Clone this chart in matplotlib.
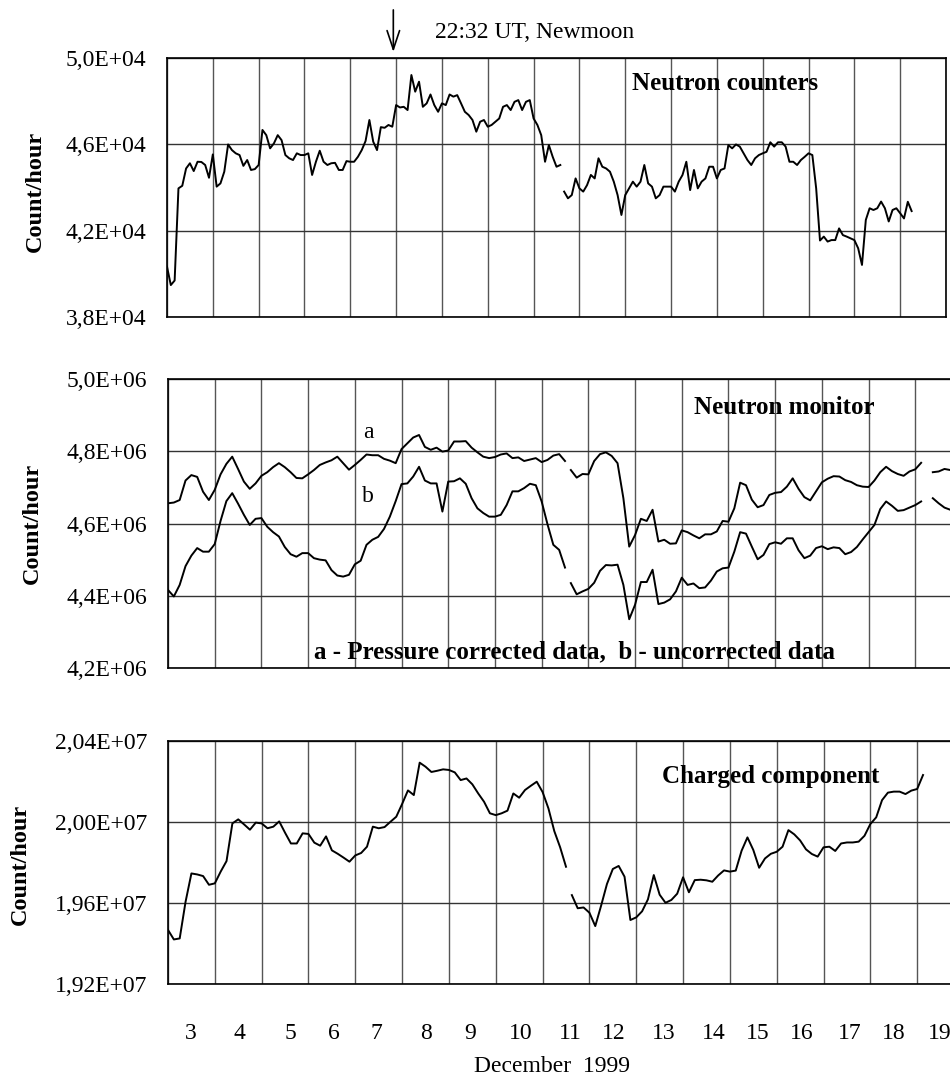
import numpy as np
import matplotlib
matplotlib.use("Agg")
import matplotlib.pyplot as plt
from matplotlib.ticker import FuncFormatter

plt.rcParams["font.family"] = ["Liberation Serif", "DejaVu Serif"]

# -----------------------------
# Data
# time axis in days of December 1999
# -----------------------------
DAY_START = 3.0
DAY_END = 20.0
NEWMOON_DAY = 7 + (22 + 32 / 60) / 24  # 22:32 UT, Dec 7

# Neutron counters, 2-hourly values, units of 1E+04 count/hour
NC_STEP = 2 / 24
NC_SEG1_START = 3.0
NC_SEG1 = [
    4.034, 3.949, 3.970, 4.396, 4.408, 4.488, 4.512, 4.476, 4.519, 4.518,
    4.504, 4.445, 4.553, 4.404, 4.419, 4.473, 4.599, 4.573, 4.558, 4.550,
    4.500, 4.527, 4.481, 4.485, 4.504, 4.666, 4.642, 4.581, 4.604, 4.642,
    4.619, 4.550, 4.535, 4.527, 4.558, 4.550, 4.550, 4.558, 4.458, 4.519,
    4.570, 4.519, 4.504, 4.512, 4.514, 4.481, 4.481, 4.522, 4.519, 4.519,
    4.542, 4.573, 4.615, 4.712, 4.612, 4.573, 4.679, 4.676, 4.689, 4.681,
    4.781, 4.770, 4.773, 4.758, 4.920, 4.843, 4.889, 4.773, 4.789, 4.830,
    4.781, 4.750, 4.789, 4.781, 4.830, 4.820, 4.827, 4.789, 4.750, 4.735,
    4.712, 4.658, 4.704, 4.712, 4.681, 4.689, 4.704, 4.719, 4.773, 4.781,
    4.758, 4.796, 4.804, 4.758, 4.796, 4.804, 4.719, 4.689, 4.642, 4.519,
    4.596, 4.542, 4.496, 4.504,
]
NC_SEG2_START = 3.0 + 104 * NC_STEP
NC_SEG2 = [
    4.381, 4.350, 4.365, 4.442, 4.396, 4.381, 4.411, 4.458, 4.442, 4.535,
    4.496, 4.488, 4.473, 4.427, 4.365, 4.273, 4.365, 4.396, 4.427, 4.404,
    4.427, 4.504, 4.419, 4.404, 4.350, 4.365, 4.404, 4.404, 4.404, 4.381,
    4.427, 4.458, 4.519, 4.388, 4.481, 4.396, 4.427, 4.442, 4.496, 4.496,
    4.442, 4.481, 4.488, 4.596, 4.581, 4.599, 4.589, 4.558, 4.527, 4.504,
    4.535, 4.550, 4.558, 4.565, 4.609, 4.589, 4.609, 4.609, 4.589, 4.519,
    4.519, 4.504, 4.527, 4.542, 4.558, 4.550, 4.396, 4.155, 4.173, 4.150,
    4.157, 4.157, 4.211, 4.180, 4.173, 4.165, 4.157, 4.119, 4.042, 4.250,
    4.304, 4.296, 4.304, 4.335, 4.304, 4.243, 4.296, 4.304, 4.281, 4.257,
    4.334, 4.291,
]

# Neutron monitor, 3-hourly values, units of 1E+06 count/hour
NM_STEP = 3 / 24
NM_SEG_STARTS = [3.0, 3.0 + 69 * NM_STEP, 3.0 + 131 * NM_STEP]
NM_A1 = [
    4.656, 4.658, 4.665, 4.719, 4.734, 4.729, 4.688, 4.665, 4.693, 4.736,
    4.765, 4.785, 4.751, 4.716, 4.696, 4.711, 4.732, 4.742, 4.756, 4.767,
    4.756, 4.742, 4.726, 4.725, 4.736, 4.748, 4.762, 4.769, 4.775, 4.785,
    4.767, 4.749, 4.762, 4.776, 4.791, 4.789, 4.789, 4.779, 4.774, 4.767,
    4.806, 4.822, 4.838, 4.845, 4.812, 4.804, 4.810, 4.799, 4.802, 4.827,
    4.827, 4.828, 4.810, 4.797, 4.785, 4.781, 4.784, 4.791, 4.794, 4.781,
    4.783, 4.773, 4.777, 4.781, 4.770, 4.776, 4.788, 4.792, 4.773,
]
NM_A2 = [
    4.748, 4.727, 4.737, 4.736, 4.773, 4.792, 4.797, 4.787, 4.767, 4.670,
    4.536, 4.568, 4.613, 4.607, 4.638, 4.550, 4.555, 4.544, 4.545, 4.581,
    4.576, 4.567, 4.559, 4.570, 4.570, 4.578, 4.607, 4.605, 4.642, 4.713,
    4.706, 4.666, 4.645, 4.651, 4.679, 4.685, 4.687, 4.702, 4.725, 4.696,
    4.673, 4.664, 4.689, 4.714, 4.724, 4.731, 4.730, 4.720, 4.715, 4.706,
    4.702, 4.701, 4.719, 4.742, 4.757, 4.745, 4.737, 4.732, 4.744, 4.750,
    4.768,
]
NM_A3 = [4.742, 4.744, 4.751, 4.748]

NM_B1 = [
    4.416, 4.398, 4.430, 4.482, 4.511, 4.532, 4.522, 4.522, 4.543, 4.607,
    4.662, 4.684, 4.655, 4.624, 4.596, 4.613, 4.615, 4.591, 4.576, 4.564,
    4.535, 4.515, 4.508, 4.518, 4.518, 4.504, 4.500, 4.498, 4.471, 4.456,
    4.453, 4.458, 4.487, 4.497, 4.541, 4.555, 4.563, 4.585, 4.619, 4.662,
    4.709, 4.711, 4.730, 4.757, 4.719, 4.711, 4.711, 4.633, 4.716, 4.717,
    4.725, 4.710, 4.670, 4.642, 4.629, 4.619, 4.619, 4.624, 4.651, 4.689,
    4.689, 4.698, 4.710, 4.706, 4.661, 4.598, 4.541, 4.527, 4.478,
]
NM_B2 = [
    4.435, 4.404, 4.412, 4.419, 4.436, 4.469, 4.485, 4.484, 4.486, 4.430,
    4.335, 4.375, 4.438, 4.438, 4.472, 4.377, 4.381, 4.390, 4.412, 4.450,
    4.430, 4.434, 4.421, 4.423, 4.442, 4.467, 4.476, 4.478, 4.522, 4.576,
    4.572, 4.536, 4.501, 4.513, 4.543, 4.548, 4.544, 4.559, 4.559, 4.526,
    4.504, 4.511, 4.532, 4.537, 4.529, 4.534, 4.532, 4.515, 4.521, 4.535,
    4.556, 4.576, 4.596, 4.640, 4.661, 4.649, 4.635, 4.637, 4.644, 4.651,
    4.661,
]
NM_B3 = [4.670, 4.656, 4.644, 4.638]

# Charged component, 3-hourly values, units of 1E+07 count/hour
CC_STEP = 3 / 24
CC_SEG_STARTS = [3.0, 3.0 + 69 * CC_STEP]
CC_1 = [
    1.9467, 1.9420, 1.9425, 1.9606, 1.9746, 1.9741, 1.9733, 1.9690, 1.9697, 1.9755,
    1.9807, 1.9993, 2.0013, 1.9988, 1.9962, 1.9997, 1.9993, 1.9969, 1.9977, 2.0003,
    1.9947, 1.9894, 1.9894, 1.9944, 1.9941, 1.9898, 1.9883, 1.9929, 1.9860, 1.9843,
    1.9824, 1.9804, 1.9835, 1.9847, 1.9878, 1.9977, 1.9969, 1.9975, 2.0001, 2.0026,
    2.0089, 2.0156, 2.0133, 2.0293, 2.0273, 2.0247, 2.0253, 2.0260, 2.0257, 2.0245,
    2.0207, 2.0215, 2.0186, 2.0141, 2.0100, 2.0043, 2.0034, 2.0043, 2.0056, 2.0141,
    2.0120, 2.0158, 2.0179, 2.0199, 2.0148, 2.0067, 1.9955, 1.9875, 1.9779,
]
CC_2 = [
    1.9639, 1.9574, 1.9578, 1.9552, 1.9486, 1.9587, 1.9694, 1.9768, 1.9783, 1.9730,
    1.9516, 1.9529, 1.9559, 1.9618, 1.9738, 1.9641, 1.9601, 1.9615, 1.9646, 1.9727,
    1.9653, 1.9713, 1.9715, 1.9712, 1.9705, 1.9736, 1.9761, 1.9755, 1.9760, 1.9858,
    1.9924, 1.9862, 1.9774, 1.9820, 1.9843, 1.9853, 1.9878, 1.9960, 1.9939, 1.9909,
    1.9865, 1.9842, 1.9829, 1.9875, 1.9878, 1.9857, 1.9894, 1.9899, 1.9899, 1.9903,
    1.9932, 1.9990, 2.0023, 2.0108, 2.0145, 2.0150, 2.0150, 2.0138, 2.0155, 2.0163,
    2.0232,
]

# axis ticks
NC_YTICKS = [3.8e4, 4.2e4, 4.6e4, 5.0e4]
NM_YTICKS = [4.2e6, 4.4e6, 4.6e6, 4.8e6, 5.0e6]
CC_YTICKS = [1.92e7, 1.96e7, 2.00e7, 2.04e7]
DAY_LABELS = list(range(3, 20))
DAY_LABEL_POS = [3.48, 4.53, 5.62, 6.54, 7.46, 8.52, 9.46, 10.53, 11.60,
                 12.52, 13.59, 14.65, 15.59, 16.53, 17.57, 18.51, 19.49]

# -----------------------------
# Layout (pixels of the 950x1078 picture)
# -----------------------------
W, H = 950, 1078
LINE_KW = dict(color="black", lw=1.4)


def fig_rect(left, top, right, bottom):
    return [left / W, 1 - bottom / H, (right - left) / W, (bottom - top) / H]


def sci_comma(v, exp, decimals):
    return f"{v / 10 ** exp:.{decimals}f}".replace(".", ",") + f"E+{exp:02d}"


def style_axes(ax, yticks, exp, decimals):
    ax.set_xlim(DAY_START, DAY_END)
    ax.set_ylim(yticks[0], yticks[-1])
    ax.set_yticks(yticks)
    ax.yaxis.set_major_formatter(FuncFormatter(lambda v, _: sci_comma(v, exp, decimals)))
    ax.set_xticks(np.arange(DAY_START, DAY_END + 1), minor=True)
    ax.set_xticks([])
    ax.tick_params(which="both", length=0)
    ax.tick_params(axis="y", labelsize=17, pad=15)
    ax.grid(True, which="minor", axis="x", color="#555555", lw=1.0)
    ax.grid(True, which="major", axis="y", color="#333333", lw=1.0)
    ax.set_axisbelow(True)
    for s in ax.spines.values():
        s.set_linewidth(1.2)


def plot_segments(ax, starts, segments, step, scale):
    for t0, vals in zip(starts, segments):
        t = t0 + np.arange(len(vals)) * step
        ax.plot(t, np.array(vals) * scale, **LINE_KW)


fig = plt.figure(figsize=(W / 100, H / 100), dpi=100)
ax1 = fig.add_axes(fig_rect(167, 57.7, 946, 317.3))
ax2 = fig.add_axes(fig_rect(168, 379, 962, 668))
ax3 = fig.add_axes(fig_rect(168, 741, 964, 984))

# panel 1: neutron counters
style_axes(ax1, NC_YTICKS, 4, 1)
plot_segments(ax1, [NC_SEG1_START, NC_SEG2_START], [NC_SEG1, NC_SEG2], NC_STEP, 1e4)
ax1.annotate("", xy=(NEWMOON_DAY, 1.022), xytext=(NEWMOON_DAY, 1.184),
             xycoords=ax1.get_xaxis_transform(),
             arrowprops=dict(arrowstyle="->,head_length=0.9,head_width=0.3",
                             lw=1.2, color="black", mutation_scale=15,
                             shrinkA=0, shrinkB=0),
             annotation_clip=False)

# panel 2: neutron monitor
style_axes(ax2, NM_YTICKS, 6, 1)
plot_segments(ax2, NM_SEG_STARTS, [NM_A1, NM_A2, NM_A3], NM_STEP, 1e6)
plot_segments(ax2, NM_SEG_STARTS, [NM_B1, NM_B2, NM_B3], NM_STEP, 1e6)

# panel 3: charged component
style_axes(ax3, CC_YTICKS, 7, 2)
plot_segments(ax3, CC_SEG_STARTS, [CC_1, CC_2], CC_STEP, 1e7)
ax3.set_xticks(DAY_LABEL_POS)
ax3.set_xticklabels([str(d) for d in DAY_LABELS])
ax3.tick_params(axis="x", labelsize=17, pad=28, length=0)


def ftext(x, y, s, **kw):
    fig.text(x / W, 1 - y / H, s, ha=kw.pop("ha", "center"), va=kw.pop("va", "center"), **kw)


BOLD = dict(fontsize=18, fontweight="bold")
ftext(435, 32, "22:32 UT, Newmoon", ha="left", fontsize=17)
ftext(725, 84, "Neutron counters", **BOLD)
ftext(784, 407, "Neutron monitor", **BOLD)
ftext(368, 433, "a", fontsize=17)
ftext(368, 496, "b", fontsize=17)
ftext(575, 652, "a - Pressure corrected data,  b - uncorrected data", **BOLD)
ftext(771, 777, "Charged component", **BOLD)
ftext(552, 1067, "December  1999", fontsize=17)
for y, x in [(191, 35), (523, 32), (864, 20)]:
    ftext(x, y, "Count/hour", rotation=90, fontsize=17.5, fontweight="bold")

fig.savefig("out.png", dpi=100)
